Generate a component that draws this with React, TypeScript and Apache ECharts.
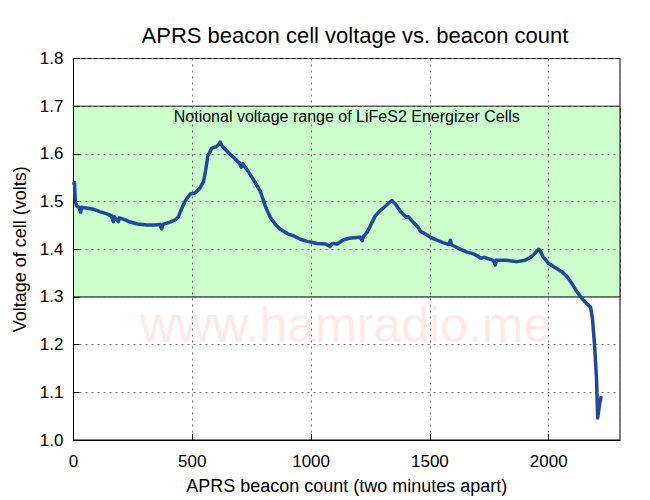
import React, { useEffect, useRef } from "react";
import * as echarts from "echarts";

const titleText = "APRS beacon cell voltage vs. beacon count";
const xAxisName = "APRS beacon count (two minutes apart)";
const yAxisName = "Voltage of cell (volts)";
const bandLabel = "Notional voltage range of LiFeS2 Energizer Cells";
const watermark = "www.hamradio.me";
const bandRange = [1.3, 1.7];

const beaconCount = [
  0, 4, 8, 13, 22, 30, 34, 60, 83, 110, 140, 160, 168, 172, 189, 193, 215, 238, 270, 308,
  340, 364, 371, 376, 406, 430, 441, 455, 470, 491, 512, 530, 547, 556, 565, 582, 600, 612, 617, 625,
  652, 680, 700, 706, 712, 730, 757, 786, 807, 828, 850, 870, 900, 926, 955, 980, 1000, 1024, 1060, 1080,
  1090, 1109, 1137, 1160, 1180, 1207, 1215, 1220, 1235, 1250, 1270, 1290, 1305, 1325, 1340, 1355, 1375, 1400, 1410, 1431,
  1450, 1460, 1480, 1502, 1530, 1555, 1580, 1586, 1592, 1620, 1656, 1680, 1700, 1715, 1730, 1768, 1775, 1780, 1820, 1867,
  1900, 1923, 1940, 1958, 1964, 1975, 2000, 2035, 2055, 2077, 2095, 2110, 2120, 2135, 2147, 2160, 2176, 2184, 2193, 2201,
  2206, 2215, 2221,
];
const cellVoltage = [
  1.535, 1.54, 1.5, 1.491, 1.489, 1.478, 1.488, 1.486, 1.484, 1.479, 1.474, 1.47, 1.458, 1.468, 1.458, 1.466, 1.462, 1.457, 1.453, 1.451,
  1.451, 1.452, 1.443, 1.452, 1.457, 1.462, 1.468, 1.485, 1.501, 1.516, 1.518, 1.527, 1.541, 1.565, 1.595, 1.612, 1.615, 1.62, 1.625, 1.617,
  1.602, 1.59, 1.58, 1.572, 1.579, 1.567, 1.546, 1.522, 1.491, 1.467, 1.452, 1.442, 1.433, 1.428, 1.421, 1.417, 1.415, 1.412, 1.411, 1.406,
  1.412, 1.411, 1.42, 1.423, 1.424, 1.425, 1.418, 1.427, 1.435, 1.45, 1.47, 1.481, 1.487, 1.496, 1.502, 1.495, 1.48, 1.467, 1.468, 1.456,
  1.446, 1.438, 1.432, 1.425, 1.419, 1.414, 1.41, 1.419, 1.409, 1.402, 1.394, 1.391, 1.386, 1.381, 1.383, 1.376, 1.367, 1.377, 1.377, 1.374,
  1.377, 1.383, 1.39, 1.4, 1.397, 1.385, 1.37, 1.359, 1.353, 1.343, 1.33, 1.318, 1.31, 1.3, 1.293, 1.286, 1.279, 1.255, 1.199, 1.13,
  1.046, 1.078, 1.092,
];

const FONT = "'Liberation Sans', Arial, Helvetica, sans-serif";

export default function App() {
  const ref = useRef<HTMLDivElement>(null);
  useEffect(() => {
    if (!ref.current) return;
    const chart = echarts.init(ref.current, null, { renderer: "svg" });
    const data = beaconCount.map((c, i) => [c, cellVoltage[i]]);
    chart.setOption({
      animation: false,
      backgroundColor: "#ffffff",
      textStyle: { fontFamily: FONT },
      title: {
        text: titleText,
        left: 350,
        top: 19,
        textAlign: "center",
        textStyle: { fontFamily: FONT, fontSize: 22, fontWeight: "normal", color: "#000" },
      },
      graphic: [
        {
          type: "text",
          z: 0,
          left: 140,
          top: 300,
          style: {
            text: watermark,
            fontFamily: FONT,
            fontSize: 50,
            fill: "#ffeaea",
          },
        },
      ],
      grid: {
        left: 73.5,
        right: 30,
        top: 58.5,
        bottom: 57.5,
        show: true,
        borderColor: "#000",
        borderWidth: 1,
        backgroundColor: "transparent",
      },
      xAxis: {
        type: "value",
        min: 0,
        max: 2300,
        interval: 500,
        z: 2,
        name: xAxisName,
        nameLocation: "middle",
        nameGap: 37,
        nameTextStyle: { fontFamily: FONT, fontSize: 18, color: "#000" },
        axisLine: { show: true, lineStyle: { color: "#000", width: 1 } },
        axisTick: { show: true, inside: true, length: 6, lineStyle: { color: "#000" } },
        axisLabel: {
          fontFamily: FONT,
          fontSize: 17,
          color: "#000",
          margin: 13,
          showMaxLabel: false,
          formatter: (v: number) => (v > 2200 ? "" : String(v)),
        },
        splitLine: { show: true, lineStyle: { color: "#777", type: [2, 4], width: 1 } },
      },
      yAxis: {
        type: "value",
        min: 1.0,
        max: 1.8,
        interval: 0.1,
        z: 2,
        name: yAxisName,
        nameLocation: "middle",
        nameRotate: 90,
        nameGap: 44,
        nameTextStyle: { fontFamily: FONT, fontSize: 18, color: "#000" },
        axisLine: { show: true, lineStyle: { color: "#000", width: 1 } },
        axisTick: { show: true, inside: true, length: 6, lineStyle: { color: "#000" } },
        axisLabel: {
          fontFamily: FONT,
          fontSize: 17,
          color: "#000",
          margin: 10,
          formatter: (v: number) => v.toFixed(1),
        },
        splitLine: { show: true, lineStyle: { color: "#777", type: [2, 4], width: 1 } },
      },
      series: [
        {
          type: "line",
          z: 1,
          data: [],
          silent: true,
          markArea: {
            silent: true,
            itemStyle: { color: "#ccffcc", borderColor: "#000", borderWidth: 1 },
            label: {
              show: true,
              position: "insideTop",
              distance: 3,
              formatter: bandLabel,
              fontFamily: FONT,
              fontSize: 16,
              color: "#000",
            },
            data: [[{ yAxis: bandRange[0] }, { yAxis: bandRange[1] }]],
          },
        },
        {
          type: "line",
          z: 3,
          data,
          showSymbol: false,
          symbol: "none",
          lineStyle: { color: "#22479c", width: 3.5, join: "round" },
        },
      ],
    });
    return () => chart.dispose();
  }, []);
  return (
    <div
      ref={ref}
      style={{ position: "fixed", left: 0, top: 0, width: 650, height: 500 }}
    />
  );
}
